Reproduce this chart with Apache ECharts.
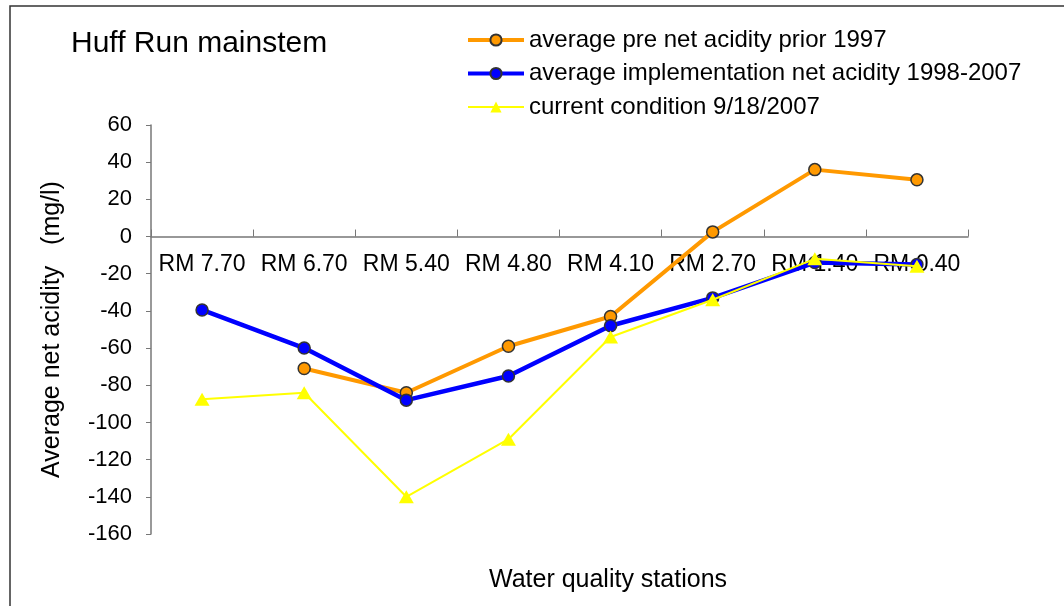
<!DOCTYPE html>
<html>
<head>
<meta charset="utf-8">
<script src="https://cdn.jsdelivr.net/npm/echarts@6/dist/echarts.min.js"></script>
<style>html,body{margin:0;padding:0;background:#fff}#c{width:1064px;height:606px}</style>
</head>
<body>
<div id="c"></div>
<script>
const categories = ['RM 7.70','RM 6.70','RM 5.40','RM 4.80','RM 4.10','RM 2.70','RM 1.40','RM 0.40'];
const preValues = [null, -71, -84, -59, -43, 2.5, 36, 30.5];
const implValues = [-39.5, -60, -88, -75, -48, -33, -14, -15];
const currentValues = [-87.5, -84, -140, -109, -54, -34, -12, -16];
const seriesNames = ['average pre net acidity prior 1997','average implementation net acidity 1998-2007','current condition 9/18/2007'];
const yMin = -160, yMax = 60, yInterval = 20;

const F = 'Liberation Sans, Arial, sans-serif';
const gridTop = 125, gridBottom = 72, H = 606;
const plotH = H - gridTop - gridBottom;
// place the category axis (line, ticks, labels) on the zero line
const zeroOffset = -plotH * (0 - yMin) / (yMax - yMin);

const chart = echarts.init(document.getElementById('c'));
chart.setOption({
  animation: false,
  backgroundColor: '#fff',
  title: {text: 'Huff Run mainstem', left: 66, top: 24, textStyle: {fontFamily: F, fontSize: 30, fontWeight: 'normal', color: '#000'}},
  legend: {
    left: 461, top: 23, orient: 'vertical', itemGap: 9.5, itemWidth: 56, itemHeight: 14,
    textStyle: {fontFamily: F, fontSize: 24, color: '#000'},
    data: [
      {name: seriesNames[0], lineStyle: {width: 4}},
      {name: seriesNames[1], lineStyle: {width: 4}},
      {name: seriesNames[2], lineStyle: {width: 2}}
    ]
  },
  grid: {left: 151, right: 96, top: gridTop, bottom: gridBottom},
  xAxis: {
    type: 'category', data: categories, boundaryGap: true, offset: zeroOffset,
    axisLine: {onZero: false, lineStyle: {color: '#777', width: 1.5}},
    axisTick: {show: true, length: 7, inside: true, lineStyle: {color: '#777'}},
    axisLabel: {fontFamily: F, fontSize: 23, color: '#000', margin: 17, interval: 0},
    splitLine: {show: false}
  },
  yAxis: {
    type: 'value', min: yMin, max: yMax, interval: yInterval,
    name: 'Average net acidity   (mg/l)', nameLocation: 'middle', nameGap: 86,
    nameTextStyle: {fontFamily: F, fontSize: 25, color: '#000'},
    axisLine: {show: true, onZero: false, lineStyle: {color: '#777', width: 1.5}},
    axisTick: {show: true, length: 5, lineStyle: {color: '#777'}},
    axisLabel: {fontFamily: F, fontSize: 22, color: '#000', margin: 19},
    splitLine: {show: false}
  },
  graphic: [
    {type: 'rect', shape: {x: 10, y: 6, width: 1200, height: 800}, style: {fill: 'none', stroke: '#333', lineWidth: 1.5}, silent: true},
    {type: 'text', x: 608, y: 580, style: {text: 'Water quality stations', font: '25px Liberation Sans, Arial, sans-serif', fill: '#000', textAlign: 'center', textVerticalAlign: 'middle'}}
  ],
  series: [
    {name: seriesNames[0], type: 'line', data: preValues, connectNulls: false,
     lineStyle: {color: '#FF9900', width: 4}, itemStyle: {color: '#FF9900', borderColor: '#333', borderWidth: 1.5},
     symbol: 'circle', symbolSize: 12, z: 3},
    {name: seriesNames[1], type: 'line', data: implValues,
     lineStyle: {color: '#0000FF', width: 4.5}, itemStyle: {color: '#0000FF', borderColor: '#333', borderWidth: 1.5},
     symbol: 'circle', symbolSize: 12, z: 4},
    {name: seriesNames[2], type: 'line', data: currentValues,
     lineStyle: {color: '#FFFF00', width: 2}, itemStyle: {color: '#FFFF00', borderWidth: 0},
     symbol: 'triangle', symbolSize: [15, 13], z: 5}
  ]
});
</script>
</body>
</html>
